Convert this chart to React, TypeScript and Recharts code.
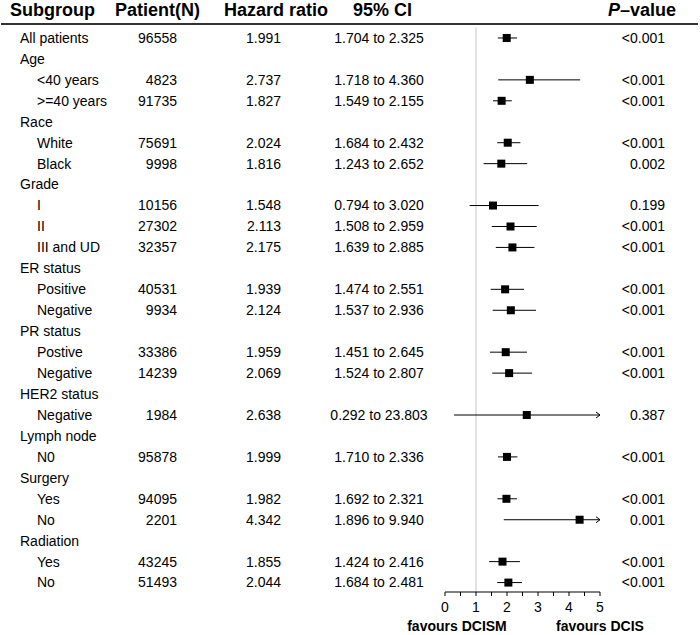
import { ScatterChart, Scatter, XAxis, YAxis, ReferenceLine, ErrorBar } from 'recharts';

const FONT = '"Liberation Sans", Arial, sans-serif';

const SUBGROUPS = [
  'All patients', 'Age', '<40 years', '>=40 years', 'Race', 'White', 'Black',
  'Grade', 'I', 'II', 'III and UD', 'ER status', 'Positive', 'Negative',
  'PR status', 'Postive', 'Negative', 'HER2 status', 'Negative', 'Lymph node',
  'N0', 'Surgery', 'Yes', 'No', 'Radiation', 'Yes', 'No',
];
// 1 = indented sub level
const INDENT = [0, 0, 1, 1, 0, 1, 1, 0, 1, 1, 1, 0, 1, 1, 0, 1, 1, 0, 1, 0, 1, 0, 1, 1, 0, 1, 1];
const PATIENTS = [
  96558, null, 4823, 91735, null, 75691, 9998, null, 10156, 27302, 32357, null,
  40531, 9934, null, 33386, 14239, null, 1984, null, 95878, null, 94095, 2201,
  null, 43245, 51493,
];
const HAZARD = [
  1.991, null, 2.737, 1.827, null, 2.024, 1.816, null, 1.548, 2.113, 2.175, null,
  1.939, 2.124, null, 1.959, 2.069, null, 2.638, null, 1.999, null, 1.982, 4.342,
  null, 1.855, 2.044,
];
const CI_LOW = [
  1.704, null, 1.718, 1.549, null, 1.684, 1.243, null, 0.794, 1.508, 1.639, null,
  1.474, 1.537, null, 1.451, 1.524, null, 0.292, null, 1.71, null, 1.692, 1.896,
  null, 1.424, 1.684,
];
const CI_HIGH = [
  2.325, null, 4.36, 2.155, null, 2.432, 2.652, null, 3.02, 2.959, 2.885, null,
  2.551, 2.936, null, 2.645, 2.807, null, 23.803, null, 2.336, null, 2.321, 9.94,
  null, 2.416, 2.481,
];
const P_VALUES = [
  '<0.001', '', '<0.001', '<0.001', '', '<0.001', '0.002', '', '0.199', '<0.001',
  '<0.001', '', '<0.001', '<0.001', '', '<0.001', '<0.001', '', '0.387', '',
  '<0.001', '', '<0.001', '0.001', '', '<0.001', '<0.001',
];
const X_TICKS = [0, 0.5, 1, 1.5, 2, 2.5, 3, 3.5, 4, 4.5, 5];
const X_MAX = 5;

// one entry per table row, positioned on the y scale
const rows = SUBGROUPS.map((_, i) => ({ x: 0, row: i + 1, i }));

const points = HAZARD.map((hr, i) => {
  if (hr == null) return null;
  const hi = Math.min(CI_HIGH[i] as number, X_MAX);
  return { x: hr, row: i + 1, err: [hr - (CI_LOW[i] as number), hi - hr] };
}).filter(Boolean);

const arrows = CI_HIGH.map((hi, i) => (hi != null && hi > X_MAX ? { x: X_MAX, row: i + 1 } : null)).filter(Boolean);

const RowText = ({ cy, payload }: any) => {
  const i = payload.i;
  const hr = HAZARD[i];
  return (
    <g fontFamily={FONT} fontSize={14} fill="#000">
      <text x={INDENT[i] ? 37 : 20} y={cy} dy="0.35em">{SUBGROUPS[i]}</text>
      {PATIENTS[i] != null && (
        <text x={177} y={cy} dy="0.35em" textAnchor="end">{PATIENTS[i]}</text>
      )}
      {hr != null && (
        <text x={281} y={cy} dy="0.35em" textAnchor="end">{hr.toFixed(3)}</text>
      )}
      {hr != null && (
        <text x={379} y={cy} dy="0.35em" textAnchor="middle">
          {`${(CI_LOW[i] as number).toFixed(3)} to ${(CI_HIGH[i] as number).toFixed(3)}`}
        </text>
      )}
      {P_VALUES[i] && (
        <text x={665} y={cy} dy="0.35em" textAnchor="end">{P_VALUES[i]}</text>
      )}
    </g>
  );
};

const Box = ({ cx, cy }: any) => <rect x={cx - 4} y={cy - 4} width={8} height={8} fill="#000" />;

const Arrow = ({ cx, cy }: any) => (
  <path d={`M${cx - 4},${cy - 3} L${cx},${cy} L${cx - 4},${cy + 3}`} fill="none" stroke="#000" strokeWidth={1} />
);

export default function App() {
  return (
    <div style={{ position: 'absolute', left: 0, top: 0, fontFamily: FONT }}>
      <ScatterChart width={700} height={635} margin={{ top: 27.5, right: 100, bottom: 0, left: 445 }}>
        <XAxis
          type="number"
          dataKey="x"
          domain={[0, X_MAX]}
          ticks={X_TICKS}
          interval={0}
          tickFormatter={(v) => (Number.isInteger(v) ? String(v) : '')}
          tick={{ fill: '#000', fontSize: 14, fontFamily: FONT }}
          tickSize={4}
          tickMargin={6}
          stroke="#000"
          height={43}
        />
        <YAxis type="number" dataKey="row" domain={[0.5, 27.45]} reversed hide />
        <ReferenceLine x={1} stroke="#c4c4c4" strokeWidth={1} />
        <Scatter data={rows} shape={<RowText />} isAnimationActive={false} />
        <Scatter data={points} shape={<Box />} isAnimationActive={false}>
          <ErrorBar dataKey="err" direction="x" width={0} stroke="#000" strokeWidth={1} isAnimationActive={false} />
        </Scatter>
        <Scatter data={arrows} shape={<Arrow />} isAnimationActive={false} />

        <g fontFamily={FONT} fontWeight="bold" fontSize={18} fill="#000">
          <text x={10} y={16}>Subgroup</text>
          <text x={115} y={16}>Patient(N)</text>
          <text x={224} y={16}>Hazard ratio</text>
          <text x={353} y={16}>95% CI</text>
          <text x={608} y={16}>
            <tspan fontStyle="italic">P</tspan>–value
          </text>
        </g>
        <line x1={1} x2={698} y1={24} y2={24} stroke="#333" strokeWidth={2} />
        <g fontFamily={FONT} fontWeight="bold" fontSize={14} fill="#000" textAnchor="middle">
          <text x={457} y={631}>favours DCISM</text>
          <text x={600} y={631}>favours DCIS</text>
        </g>
      </ScatterChart>
    </div>
  );
}
